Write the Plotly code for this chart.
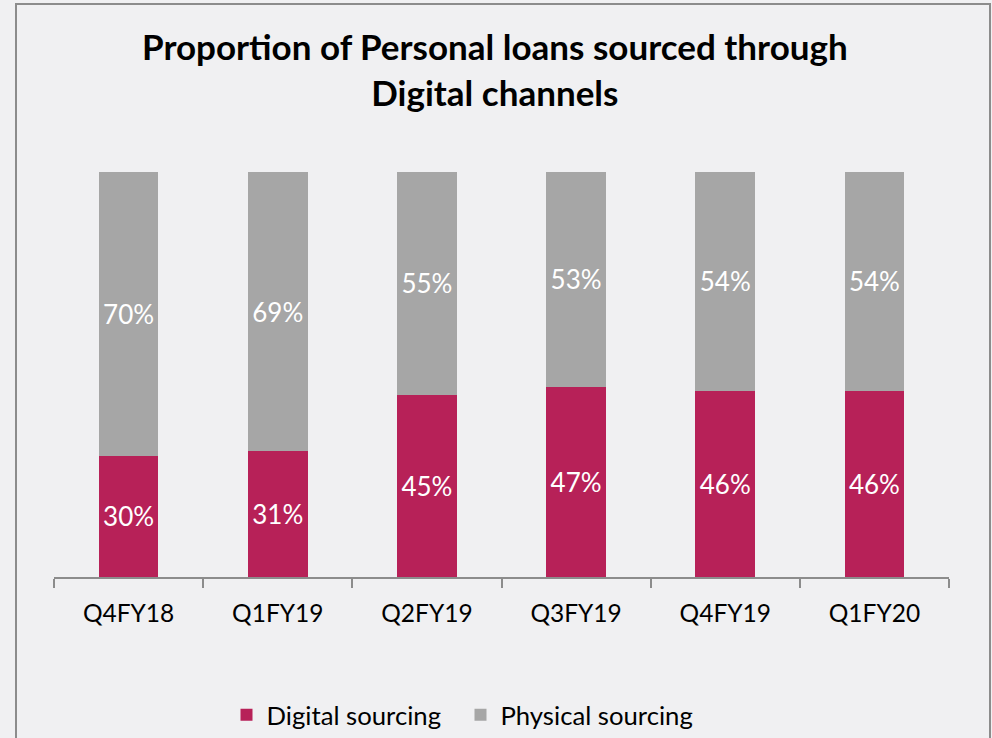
import plotly.graph_objects as go

categories = ["Q4FY18", "Q1FY19", "Q2FY19", "Q3FY19", "Q4FY19", "Q1FY20"]
digital = [30, 31, 45, 47, 46, 46]
physical = [70, 69, 55, 53, 54, 54]

W, H = 992, 738
ml, mr, mt, mb = 54, 43, 172, 161
pw, ph = W - ml - mr, H - mt - mb
FONT = "Lato, Open Sans, sans-serif"


def px2paper_x(px):
    return (px - ml) / pw


def px2paper_y(py):
    return (H - mb - py) / ph


fig = go.Figure()
fig.add_trace(go.Bar(
    x=categories, y=digital, name="Digital sourcing",
    marker=dict(color="#B72158", line=dict(width=0)),
    text=[f"{v}%" for v in digital], textposition="inside",
    insidetextanchor="middle",
    textfont=dict(color="white", size=26, family=FONT),
    width=0.4,
))
fig.add_trace(go.Bar(
    x=categories, y=physical, name="Physical sourcing",
    marker=dict(color="#A6A6A6", line=dict(width=0)),
    text=[f"{v}%" for v in physical], textposition="inside",
    insidetextanchor="middle",
    textfont=dict(color="white", size=26, family=FONT),
    width=0.4,
))

fig.add_shape(type="rect", xref="paper", yref="paper",
              x0=px2paper_x(16), x1=px2paper_x(990),
              y0=px2paper_y(745), y1=px2paper_y(4),
              line=dict(color="#8C8C8C", width=2), fillcolor="rgba(0,0,0,0)",
              layer="below")

fig.add_annotation(
    text="<b>Proportion of Personal loans sourced through<br>Digital channels</b>",
    xref="paper", yref="paper", x=px2paper_x(495), y=px2paper_y(68.5),
    xanchor="center", yanchor="middle", showarrow=False,
    font=dict(size=35, color="black", family=FONT),
)

fig.update_layout(
    width=W, height=H,
    margin=dict(l=ml, r=mr, t=mt, b=mb, autoexpand=False),
    barmode="stack",
    paper_bgcolor="#F0F0F2", plot_bgcolor="#F0F0F2",
    font=dict(family=FONT, color="black"),
    showlegend=True,
    legend=dict(orientation="h", x=px2paper_x(460.5), xanchor="center",
                y=px2paper_y(715), yanchor="middle",
                font=dict(size=25.7, color="black"),
                traceorder="normal", itemwidth=30, entrywidth=189,
                bgcolor="rgba(0,0,0,0)"),
    xaxis=dict(showline=True, linecolor="#8C8C8C", linewidth=1.5,
               ticks="outside", tickson="boundaries", ticklen=9,
               tickcolor="#8C8C8C", tickwidth=1.5,
               tickfont=dict(size=24.5, color="black"),
               ticklabelstandoff=14,
               showgrid=False, automargin=False),
    yaxis=dict(range=[0, 100], visible=False, showgrid=False),
)

fig.write_html(
    "out.html",
    config={"displayModeBar": False},
    post_script="document.body.style.margin='0';document.body.style.background='#F0F0F2';",
)
